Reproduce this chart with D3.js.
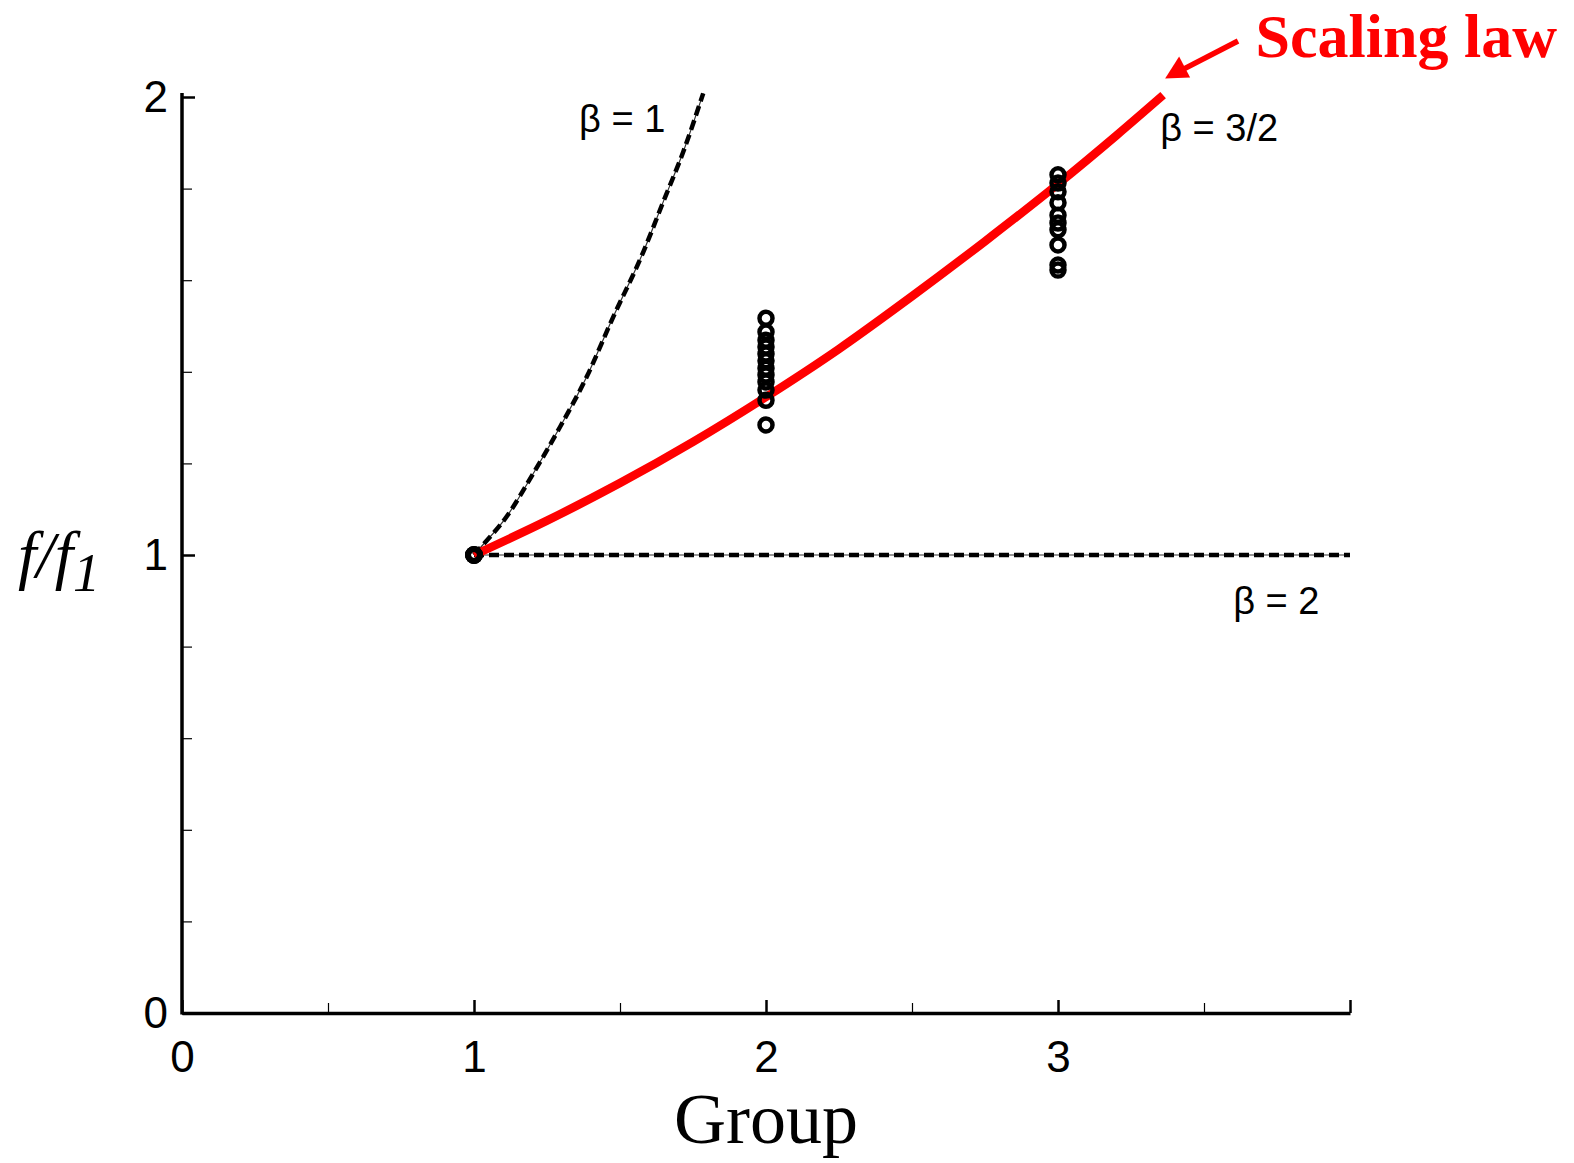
<!DOCTYPE html>
<html>
<head>
<meta charset="utf-8">
<script src="https://cdn.jsdelivr.net/npm/d3@7"></script>
<style>
  html, body { margin: 0; padding: 0; background: #fff; }
  svg { display: block; }
</style>
</head>
<body>
<svg id="chart" width="1574" height="1163"></svg>
<script>
// --- data ---
const xMajorTicks = [0, 1, 2, 3, 4];
const xMinorTicks = [0.5, 1.5, 2.5, 3.5];
const xTickLabels = ["0", "1", "2", "3", ""];
const yMajorTicks = [0, 1, 2];
const yMinorTicks = [0.2, 0.4, 0.6, 0.8, 1.2, 1.4, 1.6, 1.8];

// scaling law curve (beta = 3/2)
const scalingX = [1.0, 1.25, 1.5, 1.75, 2.0, 2.25, 2.5, 2.75, 3.0, 3.2, 3.36];
const scalingY = [1.0, 1.075, 1.157, 1.247, 1.345, 1.45, 1.565, 1.685, 1.81, 1.916, 2.004];

// beta = 1 curve
const beta1X = [1.0, 1.015, 1.112, 1.203, 1.295, 1.386, 1.472, 1.58, 1.648, 1.717, 1.785];
const beta1Y = [1.0, 1.011, 1.084, 1.178, 1.28, 1.389, 1.513, 1.662, 1.771, 1.881, 2.008];

// beta = 2 line
const beta2X = [1, 4];
const beta2Y = [1, 1];

// measured points
const group1 = [1.0, 1.0, 1.0];
const group2 = [1.517, 1.487, 1.469, 1.454, 1.439, 1.424, 1.408, 1.393, 1.378, 1.36, 1.338, 1.284];
const group3 = [1.83, 1.812, 1.793, 1.769, 1.742, 1.725, 1.71, 1.677, 1.633, 1.622];

const svg = d3.select("#chart");

const x = d3.scaleLinear().domain([0, 4]).range([182, 1350]);
const y = d3.scaleLinear().domain([0, 2]).range([1013, 97]);

const axisFont = "'Liberation Sans', Arial, Helvetica, sans-serif";
const serifFont = "'Liberation Serif', 'Times New Roman', serif";

// X axis (ticks pointing into the plot)
const xAxisG = svg.append("g")
  .attr("transform", `translate(0, ${y(0)})`)
  .call(d3.axisBottom(x)
    .tickValues(xMajorTicks)
    .tickSizeInner(-13)
    .tickSizeOuter(0)
    .tickPadding(28)
    .tickFormat((d, i) => xTickLabels[i]));
xAxisG.select(".domain").attr("stroke-width", 3.5);
xAxisG.selectAll(".tick line").attr("stroke-width", 2.5);
xAxisG.selectAll("text")
  .style("font-family", axisFont)
  .style("font-size", "44px")
  .attr("fill", "#000");

svg.append("g")
  .attr("transform", `translate(0, ${y(0)})`)
  .call(d3.axisBottom(x).tickValues(xMinorTicks).tickSizeInner(-10).tickFormat(""))
  .call((g) => g.select(".domain").remove())
  .selectAll(".tick line").attr("stroke-width", 1.2);

// Y axis
const yAxisG = svg.append("g")
  .attr("transform", `translate(${x(0)}, 0)`)
  .call(d3.axisLeft(y)
    .tickValues(yMajorTicks)
    .tickSizeInner(-13)
    .tickSizeOuter(0)
    .tickPadding(14)
    .tickFormat(d3.format("d")));
yAxisG.select(".domain").attr("stroke-width", 3.5).attr("d", `M0,${y(0) + 1.5}V${y(2) - 4}`);
yAxisG.selectAll(".tick line").attr("stroke-width", 2.5);
yAxisG.selectAll("text")
  .style("font-family", axisFont)
  .style("font-size", "44px")
  .attr("fill", "#000");

svg.append("g")
  .attr("transform", `translate(${x(0)}, 0)`)
  .call(d3.axisLeft(y).tickValues(yMinorTicks).tickSizeInner(-10).tickFormat(""))
  .call((g) => g.select(".domain").remove())
  .selectAll(".tick line").attr("stroke-width", 1.2);

// Dashed reference curves: thin solid under dashes
const line = d3.line().x((d) => x(d[0])).y((d) => y(d[1]));
const smooth = d3.line().curve(d3.curveMonotoneX).x((d) => x(d[0])).y((d) => y(d[1]));

const beta1 = beta1X.map((v, i) => [v, beta1Y[i]]);
const beta2 = beta2X.map((v, i) => [v, beta2Y[i]]);

[[beta1, smooth], [beta2, line]].forEach(([pts, gen]) => {
  svg.append("path").datum(pts)
    .attr("fill", "none").attr("stroke", "#333").attr("stroke-width", 1.2)
    .attr("d", gen);
  svg.append("path").datum(pts)
    .attr("fill", "none").attr("stroke", "#000").attr("stroke-width", 4.5)
    .attr("stroke-dasharray", "10,5")
    .attr("d", gen);
});

// Scaling law (red)
const scaling = scalingX.map((v, i) => [v, scalingY[i]]);
svg.append("path").datum(scaling)
  .attr("fill", "none")
  .attr("stroke", "#ff0000")
  .attr("stroke-width", 8.5)
  .attr("d", smooth);

// Measured points
const points = [
  ...group1.map((v) => [1, v]),
  ...group2.map((v) => [2, v]),
  ...group3.map((v) => [3, v])
];
svg.append("g")
  .selectAll("circle")
  .data(points)
  .join("circle")
  .attr("cx", (d) => x(d[0]))
  .attr("cy", (d) => y(d[1]))
  .attr("r", (d) => (d[0] === 1 ? 6 : 6.5))
  .attr("fill", "none")
  .attr("stroke", "#000")
  .attr("stroke-width", (d) => (d[0] === 1 ? 6 : 4.5));

// Curve labels
const betaLabel = (tx, ty, txt) => svg.append("text")
  .attr("x", tx).attr("y", ty)
  .style("font-family", axisFont)
  .style("font-size", "38px")
  .attr("fill", "#000")
  .text(txt);
betaLabel(x(1.36), y(1.95) + 12, "β = 1");
betaLabel(x(3.35), y(1.95) + 21, "β = 3/2");
betaLabel(x(3.6), y(0.9) + 13, "β = 2");

// Axis titles
svg.append("text")
  .attr("x", x(2)).attr("y", 1143)
  .attr("text-anchor", "middle")
  .style("font-family", serifFont)
  .style("font-size", "72px")
  .attr("fill", "#000")
  .text("Group");

const yTitle = svg.append("text")
  .attr("x", 18).attr("y", 577)
  .style("font-family", serifFont)
  .style("font-style", "italic")
  .style("font-size", "66px")
  .attr("fill", "#000");
yTitle.append("tspan").text("f/f");
yTitle.append("tspan").attr("dy", 14).style("font-size", "54px").text("1");

// Annotation
svg.append("text")
  .attr("x", 1557).attr("y", 57)
  .attr("text-anchor", "end")
  .style("font-family", serifFont)
  .style("font-weight", "bold")
  .style("font-size", "62px")
  .attr("fill", "#ff0000")
  .text("Scaling law");

const tip = [x(3.36) + 2, y(2.01) - 14];
svg.append("line")
  .attr("x1", 1238).attr("y1", 41)
  .attr("x2", tip[0] + 16).attr("y2", tip[1] - 8)
  .attr("stroke", "#ff0000").attr("stroke-width", 5.5);
svg.append("path")
  .attr("d", `M${tip[0]},${tip[1]}L${tip[0] + 14},${tip[1] - 22}L${tip[0] + 25},${tip[1] - 1}Z`)
  .attr("fill", "#ff0000");
</script>
</body>
</html>
